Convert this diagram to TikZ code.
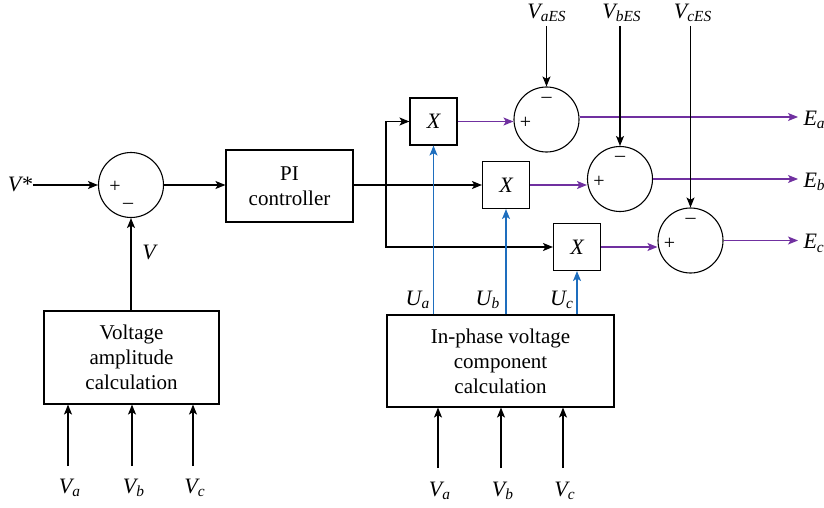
\documentclass[tikz,border=0pt]{standalone}
\usepackage{fontspec}
\setmainfont{Liberation Serif}
\usetikzlibrary{arrows.meta,calc}
\definecolor{pur}{RGB}{112,48,160}
\definecolor{blu}{RGB}{30,110,190}
\begin{document}
\begin{tikzpicture}[x=0.5pt,y=-0.5pt,
  line width=0.55pt,
  arr/.style={-{Stealth[length=5pt,width=4pt,inset=1.2pt]}},
  blk/.style={draw,rectangle,align=center,inner sep=0pt,font=\fontsize{10.5}{12.5}\selectfont},
  sumc/.style={draw,circle,minimum size=32.5pt,inner sep=0pt},
  mul/.style={draw,rectangle,minimum size=23.5pt,inner sep=0pt,font=\fontsize{11}{12}\selectfont\itshape},
  lab/.style={inner sep=0pt,font=\fontsize{11}{12}\selectfont\itshape},
  sg/.style={inner sep=0pt,font=\fontsize{10}{11}\selectfont}]
\useasboundingbox (0,0) rectangle (824,508);
% nodes
\node[lab] (vstar) at (20,184) {V*};
\node[sumc] (s1) at (131,185) {};
\node[sg] at ($(s1)+(-16,2)$) {+};
\node[sg] at ($(s1)+(-3,21)$) {\textendash};
\node[blk,minimum width=63.5pt,minimum height=36pt] (pi) at (289.5,186) {PI\\controller};
\coordinate (br) at (386,185);
\node[mul] (xa) at (433.5,121.5) {X};
\node[mul] (xb) at (506,185) {X};
\node[mul] (xc) at (577,247) {X};
\node[sumc] (sa) at (546.5,119.5) {};
\node[sumc] (sb) at (620,179) {};
\node[sumc] (sc) at (690.5,240.5) {};
\foreach \s in {sa,sb,sc}{
  \node[sg] at ($(\s)+(-21,3)$) {+};
  \node[sg] at ($(\s)+(0,-20)$) {\textendash};
}
\node[lab] (vaes) at (547,13) {V\textsubscript{aES}};
\node[lab] (vbes) at (622,13) {V\textsubscript{bES}};
\node[lab] (vces) at (693,13) {V\textsubscript{cES}};
\coordinate (ta) at (546.5,26);
\coordinate (tb) at (620,26);
\coordinate (tc) at (690.5,26);
\coordinate (ea) at (798,117);
\coordinate (eb) at (798,179);
\coordinate (ec) at (798,240.5);
\node[lab,anchor=west] (lea) at (803,120) {E\textsubscript{a}};
\node[lab,anchor=west] (leb) at (803,182) {E\textsubscript{b}};
\node[lab,anchor=west] (lec) at (803,243.5) {E\textsubscript{c}};
\node[blk,minimum width=113.5pt,minimum height=46pt] (ip) at (500.5,361) {In-phase voltage\\component\\calculation};
\node[blk,minimum width=87.5pt,minimum height=46.5pt] (va) at (131.5,357.5) {Voltage\\amplitude\\calculation};
\node[lab] (vlab) at (149,252) {V};
\node[lab] (ua) at (418,300) {U\textsubscript{a}};
\node[lab] (ub) at (488,300) {U\textsubscript{b}};
\node[lab] (uc) at (562,300) {U\textsubscript{c}};
% bottom inputs
\coordinate (la) at (68,466); \coordinate (lb) at (132,466); \coordinate (lc) at (193,466);
\node[lab] (lva) at (70,488) {V\textsubscript{a}};
\node[lab] (lvb) at (134,488) {V\textsubscript{b}};
\node[lab] (lvc) at (195,488) {V\textsubscript{c}};
\coordinate (ra) at (438,468); \coordinate (rb) at (501,468); \coordinate (rc) at (563,468);
\node[lab] (rva) at (440,491) {V\textsubscript{a}};
\node[lab] (rvb) at (503,491) {V\textsubscript{b}};
\node[lab] (rvc) at (565,491) {V\textsubscript{c}};
% connectors
\draw[arr] (vstar.east |- s1.west) -- (s1.west);
\draw[arr] (s1.east) -- (s1.east -| pi.west);
\draw[arr] (va.north -| s1) -- (s1.south);
\draw (pi.east |- br) -- (br);
\draw[arr] (br) |- (xa.west);
\draw[arr] (br) -- (xb.west);
\draw[arr] (br) |- (xc.west);
\draw[pur,arr] (xa.east) -- (xa.east -| sa.west);
\draw[pur,arr] (xb.east) -- (xb.east -| sb.west);
\draw[pur,arr] (xc.east) -- (xc.east -| sc.west);
\draw[pur,arr] (sa.east |- ea) -- (ea);
\draw[pur,arr] (sb.east) -- (eb);
\draw[pur,arr] (sc.east) -- (ec);
\draw[arr] (ta) -- (sa.north);
\draw[arr] (tb) -- (sb.north);
\draw[arr] (tc) -- (sc.north);
\draw[blu,arr] (ip.north -| xa) -- (xa.south);
\draw[blu,arr] (ip.north -| xb) -- (xb.south);
\draw[blu,arr] (ip.north -| xc) -- (xc.south);
\draw[arr] (la) -- (la |- va.south);
\draw[arr] (lb) -- (lb |- va.south);
\draw[arr] (lc) -- (lc |- va.south);
\draw[arr] (ra) -- (ra |- ip.south);
\draw[arr] (rb) -- (rb |- ip.south);
\draw[arr] (rc) -- (rc |- ip.south);
\end{tikzpicture}
\end{document}
